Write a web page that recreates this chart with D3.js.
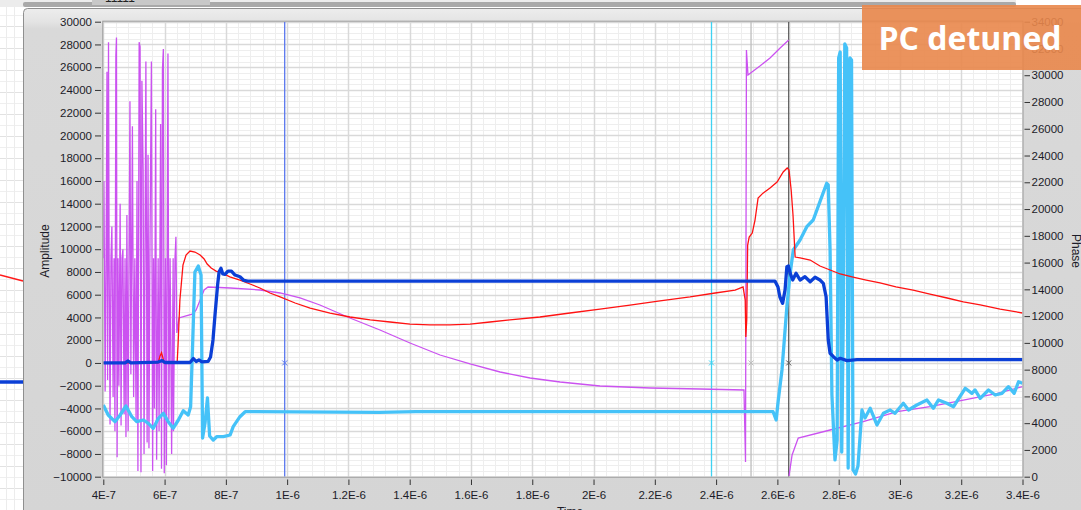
<!DOCTYPE html>
<html><head><meta charset="utf-8">
<script src="https://cdn.jsdelivr.net/npm/d3@7"></script>
<style>
html,body{margin:0;padding:0;background:#fff;overflow:hidden}
svg{display:block}
</style></head><body>
<svg id="c" width="1081" height="510"></svg>
<script>
// ---------- DATA (time in microseconds) ----------
const xTickValues = [0.4,0.6,0.8,1.0,1.2,1.4,1.6,1.8,2.0,2.2,2.4,2.6,2.8,3.0,3.2,3.4];
const xTickLabels = ["4E-7","6E-7","8E-7","1E-6","1.2E-6","1.4E-6","1.6E-6","1.8E-6","2E-6","2.2E-6","2.4E-6","2.6E-6","2.8E-6","3E-6","3.2E-6","3.4E-6"];
const ampTicks = [-10000,-8000,-6000,-4000,-2000,0,2000,4000,6000,8000,10000,12000,14000,16000,18000,20000,22000,24000,26000,28000,30000];
const phaseTicks = [0,2000,4000,6000,8000,10000,12000,14000,16000,18000,20000,22000,24000,26000,28000,30000,32000,34000];

// Amplitude (red)
const redT = [0.400,0.552,0.579,0.585,0.590,0.595,0.598,0.641,0.644,0.650,0.660,0.670,0.683,0.699,0.716,0.729,0.739,0.752,0.768,0.787,0.813,0.846,0.879,0.911,0.944,0.977,1.026,1.075,1.140,1.205,1.271,1.336,1.401,1.466,1.531,1.597,1.662,1.727,1.825,1.923,2.021,2.119,2.217,2.315,2.397,2.462,2.488,2.495,2.497,2.500,2.503,2.508,2.518,2.527,2.537,2.553,2.576,2.599,2.619,2.632,2.638,2.645,2.651,2.658,2.674,2.707,2.739,2.772,2.805,2.847,2.890,2.935,2.987,3.043,3.098,3.154,3.207,3.262,3.327,3.400];
const redV = [0,0,0,600,900,400,0,0,1600,5530,8600,9490,9840,9750,9490,9140,8700,8350,8080,7910,7560,7290,6940,6590,6150,5800,5270,4830,4390,4040,3780,3600,3420,3340,3340,3420,3600,3780,4040,4390,4740,5090,5450,5800,6150,6410,6680,5530,2280,3770,10360,11060,11420,12560,14490,14930,15380,15910,16790,17140,16960,15200,13000,9310,9230,9050,8520,8170,7820,7550,7290,7030,6680,6410,6060,5710,5360,5100,4740,4390];

// Phase (violet); null marks the phase wrap (no connecting segment)
const violetT = [0.400,0.402,0.406,0.409,0.412,0.414,0.417,0.419,0.422,0.425,0.428,0.432,0.435,0.438,0.441,0.443,0.445,0.448,0.451,0.455,0.458,0.461,0.464,0.468,0.471,0.474,0.477,0.481,0.484,0.487,0.490,0.495,0.499,0.503,0.507,0.510,0.513,0.517,0.520,0.523,0.526,0.530,0.533,0.536,0.539,0.543,0.546,0.549,0.552,0.557,0.561,0.564,0.567,0.571,0.574,0.579,0.582,0.587,0.590,0.593,0.596,0.599,0.603,0.606,0.611,0.614,0.618,0.623,0.628,0.629,0.634,0.637,0.640,0.647,0.670,0.693,0.703,0.716,0.729,0.742,0.814,0.912,0.977,1.042,1.107,1.205,1.303,1.401,1.499,1.597,1.695,1.793,1.891,2.021,2.185,2.348,2.491,2.496,2.499,2.504,2.517,2.543,2.576,2.609,2.637,2.6375,2.638,2.648,2.668,2.772,2.880,2.991,3.098,3.207,3.318,3.400];
const violetV = [16320,22100,6375,16320,30260,7225,32470,16320,3910,16320,18700,5950,16320,3400,31450,32810,1445,16320,6800,20400,3825,16320,17000,4675,16320,2975,19550,3400,16320,28050,7650,26180,5950,16320,4250,22100,425,32470,32130,340,29580,22950,1700,16320,31025,2550,24055,2125,16320,31025,425,16320,5100,27455,1275,16320,3400,26350,595,30430,31960,255,16320,850,31620,4250,16320,1700,16320,3400,16320,17935,10739,11860,12009,12158,12457,13205,13952,14176,14102,13952,13728,13354,12831,11860,10962,9991,9094,8422,7824,7376,7077,6778,6628,6553,6479,1098,31887,30017,30241,30690,31288,32035,32633,null,52,1620,2890,3490,4110,4860,5230,5730,6230,6725];

// Phase (light blue)
const cyanT = [0.400,0.416,0.438,0.455,0.474,0.493,0.509,0.531,0.547,0.563,0.580,0.596,0.612,0.628,0.645,0.661,0.677,0.685,0.692,0.699,0.710,0.719,0.724,0.732,0.740,0.747,0.759,0.770,0.792,0.814,0.824,0.846,0.863,0.889,1.300,1.420,1.700,2.100,2.586,2.596,2.603,2.615,2.631,2.641,2.652,2.674,2.696,2.717,2.739,2.761,2.766,2.772,2.778,2.788,2.795,2.800,2.805,2.810,2.815,2.820,2.826,2.831,2.837,2.842,2.847,2.855,2.863,2.876,2.886,2.903,2.925,2.946,2.968,2.984,3.011,3.028,3.055,3.088,3.109,3.126,3.153,3.175,3.213,3.235,3.245,3.262,3.289,3.311,3.333,3.354,3.373,3.387,3.400];
const cyanV = [5358,4611,4110,4611,5283,4484,4110,4237,3990,3617,4364,4738,4110,3617,4237,4932,4611,5231,10215,15297,15746,15073,2890,4013,5881,3042,2741,2989,2989,3116,3737,4484,4857,4857,4800,4857,4857,4857,4857,4237,5732,7974,12704,15073,16942,17689,18683,19183,20551,21925,21799,16942,6105,1250,2741,31288,31736,1845,11710,32334,32035,650,31288,31138,500,202,800,4984,4387,5111,3864,4738,4984,4738,5485,4984,5358,5732,5111,5732,5485,5231,6606,6232,6479,5859,6479,6105,6232,6725,6232,7099,6980];

// Amplitude (dark blue)
const blueT = [0.400,0.471,0.481,0.490,0.579,0.592,0.601,0.683,0.694,0.703,0.712,0.722,0.742,0.750,0.758,0.765,0.773,0.778,0.784,0.790,0.797,0.807,0.818,0.830,0.846,0.859,0.872,2.592,2.602,2.608,2.617,2.625,2.631,2.636,2.642,2.650,2.661,2.674,2.690,2.707,2.723,2.739,2.750,2.759,2.766,2.772,2.783,2.795,2.805,2.827,2.860,3.400];
const blueV = [0,0,170,0,80,210,40,40,390,130,260,90,130,520,2020,4360,6850,8020,8320,7820,7780,8080,8080,7730,7580,7250,7200,7200,6680,5820,5240,6410,8460,8520,7880,7290,7880,7290,7580,7140,7530,7290,7000,5820,2020,850,550,260,410,200,300,300];

// Cursors (time positions)
const cursorT = [0.992, 2.385, 2.514, 2.637];
const cursorY = 0;
const cursorColors = ["#5b78ee","#3fd2f2","#bdbdbd","#5a5a5a"];

// ---------- LAYOUT ----------
const svg = d3.select("#c");
const W = 1081, H = 510;
const x = d3.scaleLinear().domain([0.4, 3.4]).range([103.3, 1022.5]);
const yL = d3.scaleLinear().domain([-10000, 30000]).range([476.7, 21.7]);
const yR = d3.scaleLinear().domain([0, 34000]).range([476.7, 21.7]);

// background window remnants (left strip)
svg.append("rect").attr("x",0).attr("y",0).attr("width",W).attr("height",H).attr("fill","#ffffff");
const strip = svg.append("g");
for (let yy = 4; yy < H; yy += 11) strip.append("line").attr("x1",0).attr("x2",23).attr("y1",yy+0.5).attr("y2",yy+0.5).attr("stroke", (yy%22===4)?"#e2e2e2":"#efefef");
[6,14].forEach(xx => strip.append("line").attr("x1",xx+0.5).attr("x2",xx+0.5).attr("y1",0).attr("y2",H).attr("stroke","#ececec"));
strip.append("line").attr("x1",0).attr("x2",23).attr("y1",275).attr("y2",281).attr("stroke","#ff1a1a").attr("stroke-width",1.5);
strip.append("line").attr("x1",0).attr("x2",23).attr("y1",382).attr("y2",382).attr("stroke","#0b3fd6").attr("stroke-width",3.5);

// top bar
svg.append("rect").attr("x",0).attr("y",0).attr("width",1016).attr("height",7).attr("fill","#ececec");
svg.append("rect").attr("x",23).attr("y",2).attr("width",993).attr("height",5).attr("rx",2).attr("fill","#a9a9a9");
svg.append("rect").attr("x",92).attr("y",0).attr("width",118).attr("height",5).attr("fill","#c8c8c8");
svg.append("text").attr("x",105).attr("y",2).attr("font-family","Liberation Sans").attr("font-size",12).attr("fill","#222").text("11111");

// panel
const defs = svg.append("defs");
const grad = defs.append("linearGradient").attr("id","pg").attr("x1",0).attr("x2",0).attr("y1",0).attr("y2",1);
grad.append("stop").attr("offset","0").attr("stop-color","#ededed");
grad.append("stop").attr("offset","0.025").attr("stop-color","#e4e4e4");
grad.append("stop").attr("offset","0.04").attr("stop-color","#d9d9d9");
grad.append("stop").attr("offset","1").attr("stop-color","#d5d5d5");
svg.append("rect").attr("x",23.5).attr("y",8.5).attr("width",W).attr("height",H).attr("rx",4)
  .attr("fill","url(#pg)").attr("stroke","#8f8f8f");

// plot area
const px0 = x.range()[0], px1 = x.range()[1], py0 = yL.range()[1], py1 = yL.range()[0];
svg.append("rect").attr("x",px0).attr("y",py0).attr("width",px1-px0).attr("height",py1-py0).attr("fill","#ffffff");
defs.append("clipPath").attr("id","clip").append("rect").attr("x",px0).attr("y",py0).attr("width",px1-px0).attr("height",py1-py0);

// grid
const grid = svg.append("g").attr("clip-path","url(#clip)");
const minorX = d3.range(0.4, 3.4001, 0.04);
const minorY = d3.range(-10000, 30001, 500);
grid.selectAll(".mx").data(minorX).join("line").attr("x1",d=>Math.round(x(d))+0.5).attr("x2",d=>Math.round(x(d))+0.5).attr("y1",py0).attr("y2",py1).attr("stroke","#eeeeee");
grid.selectAll(".my").data(minorY).join("line").attr("y1",d=>Math.round(yL(d))+0.5).attr("y2",d=>Math.round(yL(d))+0.5).attr("x1",px0).attr("x2",px1).attr("stroke","#eeeeee");
grid.selectAll(".gx").data(xTickValues).join("line").attr("x1",d=>Math.round(x(d))+0.5).attr("x2",d=>Math.round(x(d))+0.5).attr("y1",py0).attr("y2",py1).attr("stroke","#d9d9d9").attr("stroke-width",1.5);
grid.selectAll(".gy").data(ampTicks).join("line").attr("y1",d=>Math.round(yL(d))+0.5).attr("y2",d=>Math.round(yL(d))+0.5).attr("x1",px0).attr("x2",px1).attr("stroke","#d9d9d9").attr("stroke-width",1.5);

// cursors
const cur = svg.append("g").attr("clip-path","url(#clip)");
cursorT.forEach((t,i) => {
  const cx = x(t);
  cur.append("line").attr("x1",cx).attr("x2",cx).attr("y1",py0).attr("y2",py1).attr("stroke",cursorColors[i]).attr("stroke-width",1.3);
  const cy = yL(cursorY), s = 2.5;
  cur.append("path").attr("d",`M${cx-s},${cy-s}L${cx+s},${cy+s}M${cx-s},${cy+s}L${cx+s},${cy-s}`).attr("stroke",cursorColors[i]).attr("stroke-width",1);
});

// series
const plot = svg.append("g").attr("clip-path","url(#clip)");
const lineL = (T) => d3.line().defined(d=>d!==null).x((d,i)=>x(T[i])).y(d=>yL(d));
const lineR = (T) => d3.line().defined(d=>d!==null).x((d,i)=>x(T[i])).y(d=>yR(d));
plot.append("path").datum(violetV).attr("d",lineR(violetT)).attr("fill","none").attr("stroke","#cb52f0").attr("stroke-width",1.3);
plot.append("path").datum(cyanV).attr("d",lineR(cyanT)).attr("fill","none").attr("stroke","#45c2f8").attr("stroke-width",3.3).attr("stroke-linejoin","round");
plot.append("path").datum(redV).attr("d",lineL(redT)).attr("fill","none").attr("stroke","#ff1212").attr("stroke-width",1.3);
plot.append("path").datum(blueV).attr("d",lineL(blueT)).attr("fill","none").attr("stroke","#0b3fd6").attr("stroke-width",3.3).attr("stroke-linejoin","round");

// plot border
svg.append("rect").attr("x",px0-0.5).attr("y",py0-0.5).attr("width",px1-px0+1).attr("height",py1-py0+1).attr("fill","none").attr("stroke","#9a9a9a");

// axes
const FONT = "Liberation Sans";
const styleAxis = g => {
  g.select(".domain").remove();
  g.selectAll(".tick line").attr("stroke","#333");
  g.selectAll(".tick text").attr("font-family",FONT).attr("font-size",11.5).attr("fill","#1c1c28");
};
svg.append("g").attr("transform","translate(101,0)")
  .call(d3.axisLeft(yL).tickValues(ampTicks).tickSize(6).tickPadding(3).tickFormat(d3.format("d"))).call(styleAxis);
svg.append("g").attr("transform","translate(1024.5,0)")
  .call(d3.axisRight(yR).tickValues(phaseTicks).tickSize(5.5).tickPadding(1.5).tickFormat(d3.format("d"))).call(styleAxis);
svg.append("g").attr("transform","translate(0,479.5)")
  .call(d3.axisBottom(x).tickValues(xTickValues).tickSize(5.5).tickPadding(6).tickFormat((d,i)=>xTickLabels[i])).call(styleAxis);

// axis titles
svg.append("text").attr("transform","translate(48.5,251) rotate(-90)").attr("text-anchor","middle")
  .attr("font-family",FONT).attr("font-size",12).attr("fill","#1c1c28").text("Amplitude");
svg.append("text").attr("transform","translate(1072,251) rotate(90)").attr("text-anchor","middle")
  .attr("font-family",FONT).attr("font-size",12).attr("fill","#1c1c28").text("Phase");
svg.append("text").attr("x",570).attr("y",516).attr("text-anchor","middle")
  .attr("font-family",FONT).attr("font-size",12).attr("fill","#1c1c28").text("Time");

// annotation box
svg.append("rect").attr("x",862).attr("y",5).attr("width",219).attr("height",65).attr("fill","#e9874b").attr("opacity",0.9);
svg.append("text").attr("x",970).attr("y",50).attr("text-anchor","middle")
  .attr("font-family","Open Sans").attr("font-weight",700).attr("font-size",32).attr("fill","#ffffff").text("PC detuned");
</script>
</body></html>
